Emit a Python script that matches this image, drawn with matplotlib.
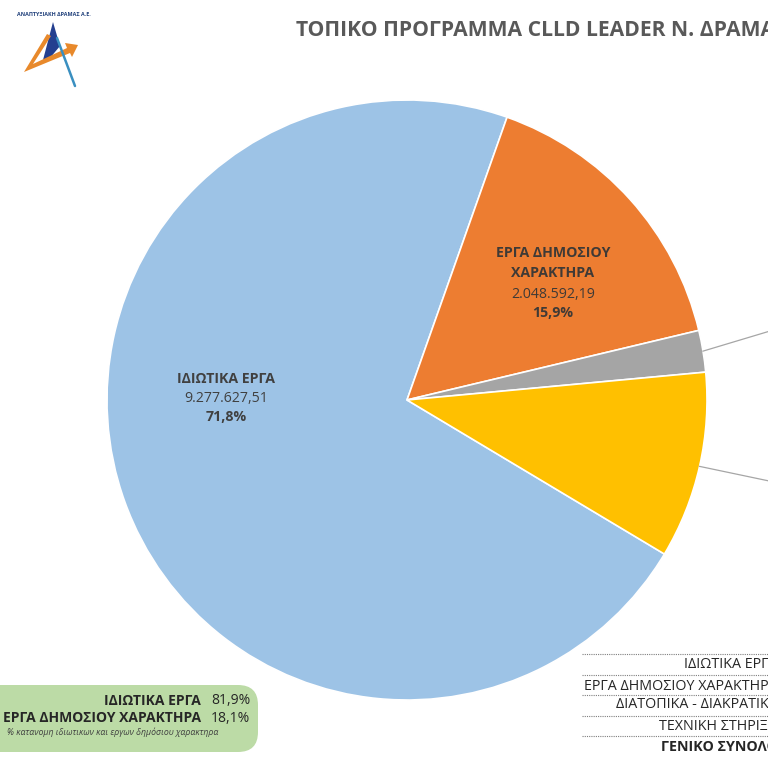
import matplotlib
matplotlib.use("Agg")
import matplotlib.pyplot as plt
from matplotlib.patches import FancyBboxPatch, Polygon
import numpy as np

plt.rcParams['font.family'] = ['Open Sans', 'DejaVu Sans']

# ---- data ----
categories = ["ΙΔΙΩΤΙΚΑ ΕΡΓΑ", "ΕΡΓΑ ΔΗΜΟΣΙΟΥ ΧΑΡΑΚΤΗΡΑ",
              "ΔΙΑΤΟΠΙΚΑ - ΔΙΑΚΡΑΤΙΚΑ", "ΤΕΧΝΙΚΗ ΣΤΗΡΙΞΗ"]
values = [9277627.51, 2048592.19, 290000.00, 1300000.00]
colors = ["#9dc3e6", "#ed7d31", "#a5a5a5", "#ffc000"]
table_rows = ["ΙΔΙΩΤΙΚΑ ΕΡΓΑ", "ΕΡΓΑ ΔΗΜΟΣΙΟΥ ΧΑΡΑΚΤΗΡΑ",
              "ΔΙΑΤΟΠΙΚΑ - ΔΙΑΚΡΑΤΙΚΑ", "ΤΕΧΝΙΚΗ ΣΤΗΡΙΞΗ", "ΓΕΝΙΚΟ ΣΥΝΟΛΟ"]
box_labels = ["ΙΔΙΩΤΙΚΑ ΕΡΓΑ", "ΕΡΓΑ ΔΗΜΟΣΙΟΥ ΧΑΡΑΚΤΗΡΑ"]
title = "ΤΟΠΙΚΟ ΠΡΟΓΡΑΜΜΑ CLLD LEADER Ν. ΔΡΑΜΑΣ"

W = 768
def Y(y):
    return W - y

def gr_num(v):
    s = f"{v:,.2f}"
    return s.replace(",", "X").replace(".", ",").replace("X", ".")

def gr_pct(p):
    return f"{p:.1f}%".replace(".", ",")

fig = plt.figure(figsize=(7.68, 7.68), dpi=100)
ax = fig.add_axes([0, 0, 1, 1])

cx, cy, R = 407, Y(400), 300
wedges, _ = ax.pie(values, colors=colors, startangle=-30.9, counterclock=False,
                   center=(cx, cy), radius=R, frame=True,
                   wedgeprops=dict(edgecolor="white", linewidth=1.2))
ax.set_xlim(0, W)
ax.set_ylim(0, W)
ax.set_aspect('equal')
ax.axis('off')

total = sum(values)
pcts = [v / total * 100 for v in values]

# labels inside slices
lab_col = "#404040"
fs = 10.2
ax.text(226, Y(379), categories[0], ha='center', va='center', fontsize=fs,
        fontweight='bold', color=lab_col)
ax.text(226, Y(398), gr_num(values[0]), ha='center', va='center', fontsize=fs,
        color=lab_col)
ax.text(226, Y(417), gr_pct(pcts[0]), ha='center', va='center', fontsize=fs,
        fontweight='bold', color=lab_col)
ocol = "#3f3a36"
ax.text(553, Y(253), "ΕΡΓΑ ΔΗΜΟΣΙΟΥ", ha='center', va='center', fontsize=fs,
        fontweight='bold', color=ocol)
ax.text(553, Y(273), "ΧΑΡΑΚΤΗΡΑ", ha='center', va='center', fontsize=fs,
        fontweight='bold', color=ocol)
ax.text(553, Y(294), gr_num(values[1]), ha='center', va='center', fontsize=fs,
        color=ocol)
ax.text(553, Y(313), gr_pct(pcts[1]), ha='center', va='center', fontsize=fs,
        fontweight='bold', color=ocol)

# leader lines for the small slices (labels lie outside the visible area)
for w, slope in [(wedges[2], -0.30), (wedges[3], 0.21)]:
    ang = np.deg2rad((w.theta1 + w.theta2) / 2)
    x0 = cx + R * np.cos(ang)
    y0 = cy + R * np.sin(ang)
    x1 = 820
    y1 = y0 - slope * (x1 - x0)
    ax.plot([x0, x1], [y0, y1], color="#a6a6a6", lw=0.9, clip_on=False)

# title
ax.text(296, Y(31), title, ha='left', va='center', fontsize=15.2,
        fontweight='bold', color='#595959')

# logo
ax.text(54, Y(15), "ΑΝΑΠΤΥΞΙΑΚΗ ΔΡΑΜΑΣ Α.Ε.", ha='center', va='center',
        fontsize=3.9, color='#1f3f7a', fontweight='bold')
ax.add_patch(Polygon([(53, Y(22)), (43, Y(60)), (50, Y(58)), (60, Y(46))],
                     closed=True, color='#243f8f', lw=0))
ax.plot([57, 75], [Y(38), Y(86)], color='#3a8fc0', lw=1.8,
        solid_capstyle='round')
ax.add_patch(Polygon([(47, Y(34)), (24, Y(72)), (70, Y(53)), (72, Y(57)),
                      (78, Y(45)), (65, Y(43)), (67, Y(48)), (33, Y(64)),
                      (51, Y(36))], closed=True, color='#e8892b', lw=0))

# green box
box = FancyBboxPatch((-40, Y(752)), 298, 67,
                     boxstyle="round,pad=0,rounding_size=20",
                     fc="#bcdba6", ec="none")
ax.add_patch(box)
priv_share = values[0] / (values[0] + values[1]) * 100
pub_share = values[1] / (values[0] + values[1]) * 100
bfs = 10.0
ax.text(201, Y(701), box_labels[0], ha='right', va='center', fontsize=bfs,
        fontweight='bold', color='#262626')
ax.text(201, Y(718), box_labels[1], ha='right', va='center', fontsize=bfs,
        fontweight='bold', color='#262626')
ax.text(211, Y(701), gr_pct(priv_share), ha='left', va='center', fontsize=bfs,
        color='#262626')
ax.text(211, Y(718), gr_pct(pub_share), ha='left', va='center', fontsize=bfs,
        color='#262626')
ax.text(7, Y(732), "% κατανομη ιδιωτικων και εργων δημόσιου χαρακτηρα",
        ha='left', va='center', fontsize=6.3, style='italic', color='#404040')

# table at bottom right (extends past the right edge)
row_y = [665, 686, 705, 726, 747]
line_y = [654, 675, 695, 716, 736]
for ly in line_y:
    ax.plot([582, 800], [Y(ly), Y(ly)], color='#7f7f7f', lw=0.8,
            linestyle=(0, (1, 1)), clip_on=False)
for i, (t, ry) in enumerate(zip(table_rows, row_y)):
    ax.text(778, Y(ry), t, ha='right', va='center', fontsize=10.3,
            fontweight='bold' if i == 4 else 'normal', color='#262626',
            clip_on=False)

fig.savefig("out.png", dpi=100)
